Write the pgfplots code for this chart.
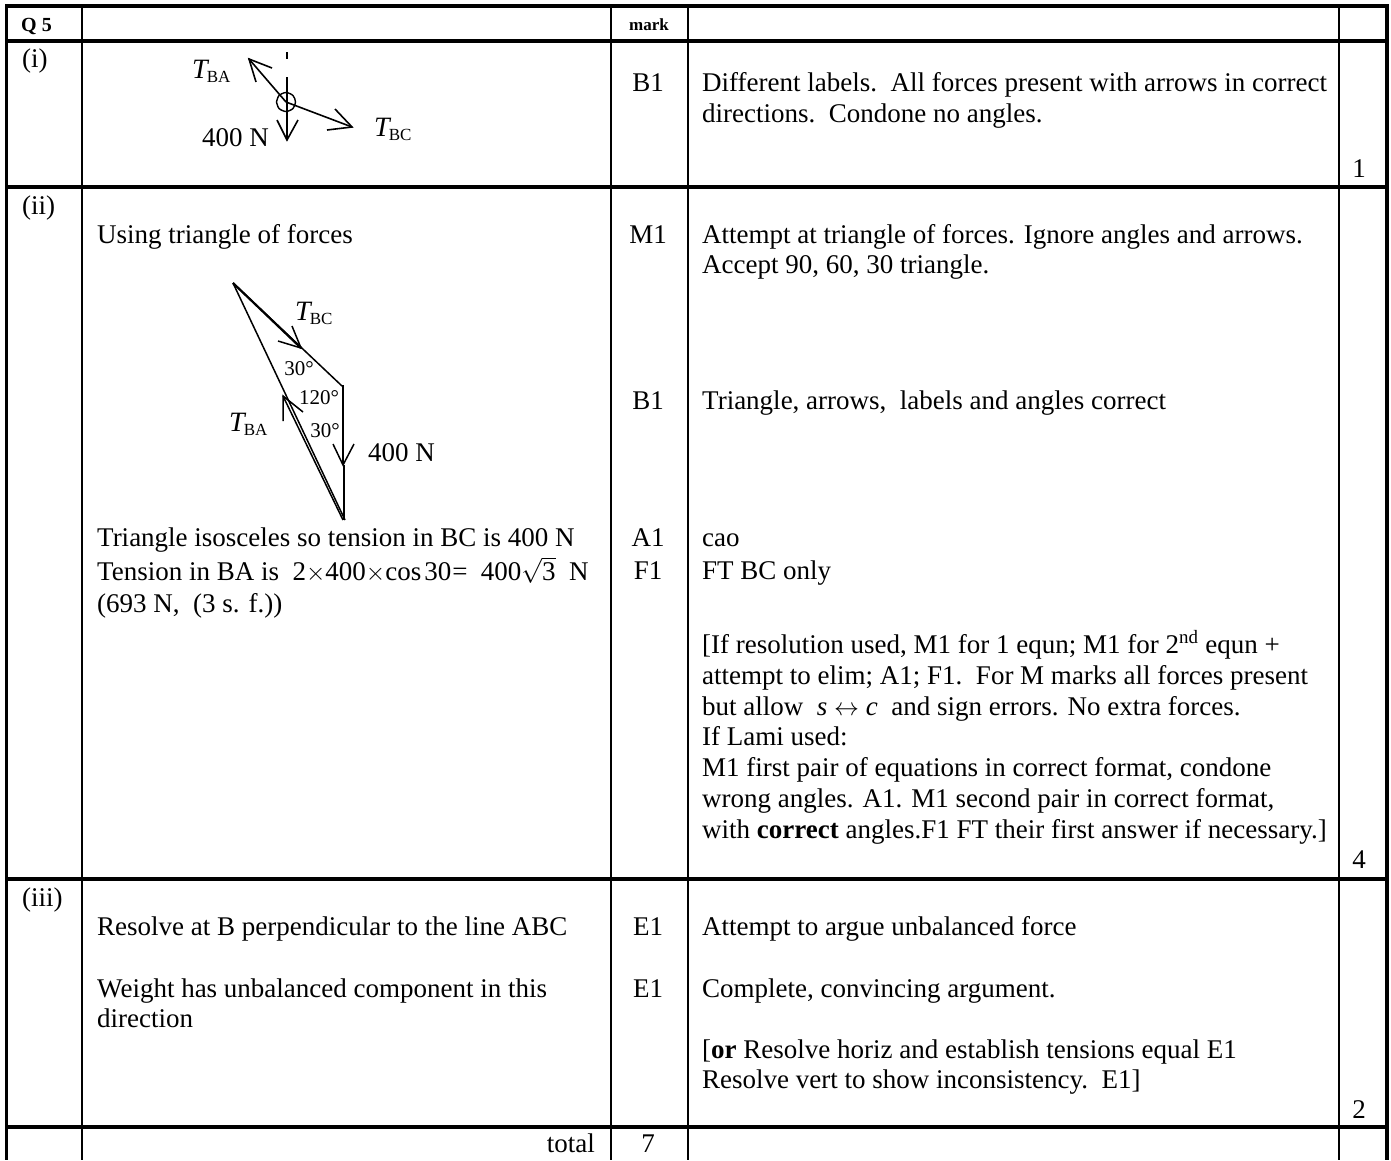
\documentclass[border=0pt]{standalone}
\usepackage{pgfplots}
\pgfplotsset{compat=1.18}
\usepackage{fontspec}
\setmainfont{Liberation Serif}
\newcommand{\Tl}[3]{\node[anchor=base west,inner sep=0pt] at (axis cs:#1,#2) {#3};}
\newcommand{\Tc}[3]{\node[anchor=base,inner sep=0pt] at (axis cs:#1,#2) {#3};}
\newcommand{\Tr}[3]{\node[anchor=base east,inner sep=0pt] at (axis cs:#1,#2) {#3};}
\newcommand{\Tn}[1]{{\fontsize{28}{28}\selectfont\itshape T}\kern-1pt{\fontsize{17}{17}\selectfont\raisebox{-4pt}{#1}}}
\begin{document}
\begin{tikzpicture}
\useasboundingbox (0,0) rectangle (1391pt,1160pt);
\begin{axis}[
  scale only axis, width=1391pt, height=1160pt,
  xmin=0, xmax=1391, ymin=0, ymax=1160,
  y dir=reverse, hide axis, clip=false,
  every axis plot/.append style={black,no markers,line cap=butt},
  nodes={font=\fontsize{27}{30}\selectfont},
]
% heavy rules
\addplot[line width=3.4pt] coordinates {(5,6) (1389,6)};
\addplot[line width=3.4pt] coordinates {(5,41) (1389,41)};
\addplot[line width=3.4pt] coordinates {(5,187) (1389,187)};
\addplot[line width=3.4pt] coordinates {(5,879) (1389,879)};
\addplot[line width=3.4pt] coordinates {(5,1127) (1389,1127)};
\addplot[line width=3.4pt] coordinates {(6.5,4) (6.5,1160)};
\addplot[line width=3.4pt] coordinates {(1387,4) (1387,1160)};
% light rules
\addplot[line width=1.6pt] coordinates {(82,6) (82,1160)};
\addplot[line width=1.6pt] coordinates {(611,6) (611,1160)};
\addplot[line width=1.6pt] coordinates {(688,6) (688,1160)};
\addplot[line width=1.6pt] coordinates {(1339,6) (1339,1160)};
% part (i) force diagram
\addplot[line width=1.6pt] coordinates {(287,52) (287,59)};
\addplot[line width=1.6pt] coordinates {(287,77) (287,140)};
\addplot[line width=1.6pt] coordinates {(277,120) (287,140) (298,120)};
\addplot[line width=1.6pt] coordinates {(286,102) (249,59)};
\addplot[line width=1.6pt] coordinates {(272,68) (249,59) (256,82)};
\addplot[line width=1.6pt] coordinates {(286,102) (352,127)};
\addplot[line width=1.6pt] coordinates {(335,109) (352,127) (327,130)};
\addplot[line width=1.4pt,smooth] coordinates {(276.5,102) (279,95.5) (286,92.5) (293,95.5) (295.5,102) (293,108.5) (286,111.5) (279,108.5) (276.5,102)};
% part (ii) triangle of forces
\addplot[line width=1.5pt] coordinates {(233,283) (342,386)};
\addplot[line width=1.5pt] coordinates {(233,283) (345,520)};
\addplot[line width=2.2pt] coordinates {(233,283) (301,348)};
\addplot[line width=1.5pt] coordinates {(292,326) (301,348) (278,341)};
\addplot[line width=2pt] coordinates {(343,385) (343,465)};
\addplot[line width=1.2pt] coordinates {(344,465) (344,520)};
\addplot[line width=1.5pt] coordinates {(333,444) (343,465) (354,444)};
\addplot[line width=1.5pt] coordinates {(343,520) (283,396)};
\addplot[line width=1.5pt] coordinates {(283,421) (283,396) (303,412)};
% header
\node[anchor=base west,inner sep=0pt,font=\fontsize{20}{22}\selectfont\bfseries] at (axis cs:21,31) {Q 5};
\node[anchor=base,inner sep=0pt,font=\fontsize{17}{18}\selectfont\bfseries] at (axis cs:649,30) {mark};
% (i)
\Tl{22}{67}{(i)}
\Tl{192}{78}{\Tn{BA}}
\Tl{202}{146}{400 N}
\Tl{374}{136}{\Tn{BC}}
\Tc{648}{91}{B1}
\Tl{702}{91}{Different labels.\ \ All forces present with arrows in correct}
\Tl{702}{122}{directions.\ \ Condone no angles.}
\Tc{1359}{177}{1}
% (ii)
\Tl{22}{214}{(ii)}
\Tl{97}{243}{Using triangle of forces}
\Tl{295}{320}{\Tn{BC}}
\Tl{229}{431}{\Tn{BA}}
\Tl{368}{461}{400 N}
\node[anchor=base,inner sep=0pt,font=\fontsize{21}{22}\selectfont] at (axis cs:299,375) {30°};
\node[anchor=base,inner sep=0pt,font=\fontsize{21}{22}\selectfont] at (axis cs:319,404) {120°};
\node[anchor=base,inner sep=0pt,font=\fontsize{21}{22}\selectfont] at (axis cs:325,437) {30°};
\Tc{648}{243}{M1}
\Tl{702}{243}{Attempt at triangle of forces. Ignore angles and arrows.}
\Tl{702}{273}{Accept 90, 60, 30 triangle.}
\Tc{648}{409}{B1}
\Tl{702}{409}{Triangle, arrows,\ \ labels and angles correct}
\Tl{97}{546}{Triangle isosceles so tension in BC is 400 N}
\Tc{648}{546}{A1}
\Tl{702}{546}{cao}
\Tl{97}{580}{Tension in BA is\ \ 2$\times$400$\times$cos\kern3pt30\kern1pt=\ \ 400$\sqrt{\mbox{3}}$\ \ N}
\Tc{648}{579}{F1}
\Tl{702}{579}{FT BC only}
\Tl{97}{612}{(693 N,\ \ (3 s. f.))}
\Tl{702}{653}{[If resolution used, M1 for 1 equn; M1 for 2\textsuperscript{nd} equn +}
\Tl{702}{684}{attempt to elim; A1; F1.\ \ For M marks all forces present}
\Tl{702}{715}{but allow\ \ \textit{s} $\leftrightarrow$ \textit{c}\ \ and sign errors. No extra forces.}
\Tl{702}{745}{If Lami used:}
\Tl{702}{776}{M1 first pair of equations in correct format, condone}
\Tl{702}{807}{wrong angles. A1. M1 second pair in correct format,}
\Tl{702}{838}{with \textbf{correct} angles.F1 FT their first answer if necessary.]}
\Tc{1359}{868}{4}
% (iii)
\Tl{22}{906}{(iii)}
\Tl{97}{935}{Resolve at B perpendicular to the line ABC}
\Tc{648}{935}{E1}
\Tl{702}{935}{Attempt to argue unbalanced force}
\Tl{97}{997}{Weight has unbalanced component in this}
\Tl{97}{1027}{direction}
\Tc{648}{997}{E1}
\Tl{702}{997}{Complete, convincing argument.}
\Tl{702}{1058}{[\textbf{or} Resolve horiz and establish tensions equal E1}
\Tl{702}{1088}{Resolve vert to show inconsistency.\ \ E1]}
\Tc{1359}{1118}{2}
% total row
\Tr{595}{1152}{total}
\Tc{648}{1152}{7}
\end{axis}
\end{tikzpicture}
\end{document}
